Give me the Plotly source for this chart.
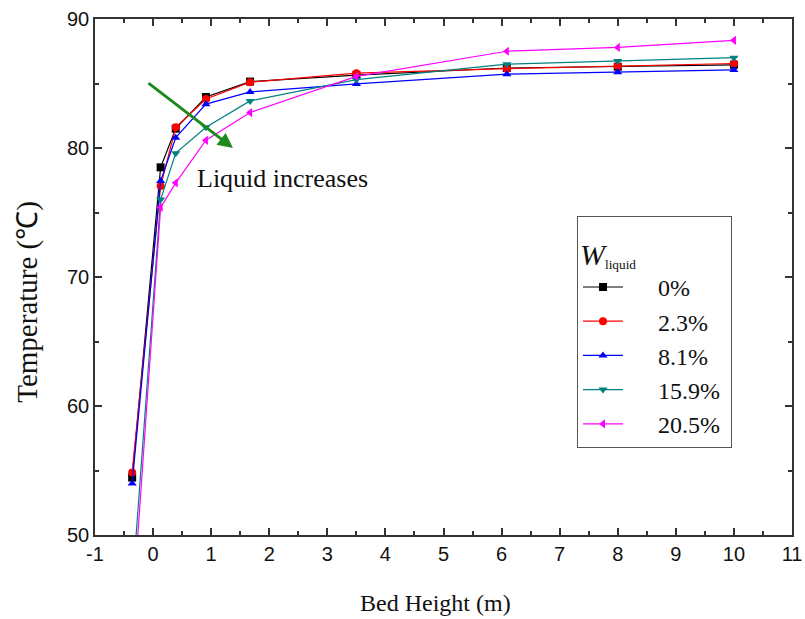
import plotly.graph_objects as go

bed_height = [-0.36, 0.13, 0.39, 0.91, 1.67, 3.5, 6.09, 8.0, 10.0]
t_0 = [54.45, 78.5, 81.5, 83.95, 85.15, 85.65, 86.2, 86.3, 86.45]
t_2_3 = [54.85, 77.05, 81.6, 83.8, 85.1, 85.8, 86.15, 86.35, 86.55]
t_8_1 = [54.0, 77.45, 80.8, 83.4, 84.35, 84.97, 85.72, 85.87, 86.05]
t_15_9 = [45.8, 76.0, 79.6, 81.6, 83.65, 85.3, 86.5, 86.75, 87.0]
t_20_5 = [43.7, 75.4, 77.3, 80.6, 82.75, 85.55, 87.5, 87.8, 88.35]

series_names = ["0%", "2.3%", "8.1%", "15.9%", "20.5%"]
series_values = [t_0, t_2_3, t_8_1, t_15_9, t_20_5]
colors = ["#000000", "#FF0000", "#0000FF", "#008080", "#FF00FF"]
symbols = ["square", "circle", "triangle-up", "triangle-down", "triangle-left"]

x_ticks = list(range(-1, 12))
x_tick_labels = ["-1"] + [str(v) for v in range(0, 12)]
y_ticks = [50, 60, 70, 80, 90]

SERIF = "Liberation Serif, Times New Roman, serif"
SANS = "Liberation Sans, Arial, sans-serif"
NB = "\u00a0"

fig = go.Figure()
for name, vals, c, s in zip(series_names, series_values, colors, symbols):
    fig.add_trace(go.Scatter(
        x=bed_height, y=vals, name=NB * 5 + name + NB, mode="lines+markers",
        line=dict(color=c, width=1.2),
        marker=dict(symbol=s, size=8, color=c),
    ))

axis_common = dict(
    showline=True, linecolor="#333333", linewidth=1.5, mirror="ticks",
    ticks="inside", ticklen=7, tickwidth=1.5, tickcolor="#333333",
    showgrid=False, zeroline=False, automargin=False,
    tickfont=dict(family=SANS, size=20, color="#111111"),
)

fig.update_xaxes(
    range=[-1, 11], tickvals=x_ticks, ticktext=x_tick_labels,
    minor=dict(ticks="inside", ticklen=4, tickwidth=1.5, tickcolor="#333333", dtick=0.5),
    **axis_common,
)
fig.update_yaxes(
    range=[50, 90], tickvals=y_ticks,
    minor=dict(ticks="inside", ticklen=4, tickwidth=1.5, tickcolor="#333333", dtick=5),
    **axis_common,
)

# axis titles
fig.add_annotation(
    x=0.488, y=0, xref="paper", yref="paper", xanchor="center", yanchor="middle",
    yshift=-68, text="Bed Height (m)", showarrow=False,
    font=dict(family=SERIF, size=24, color="#111111"),
)
fig.add_annotation(
    x=0, y=0.452, xref="paper", yref="paper", xanchor="center", yanchor="middle",
    xshift=-67, textangle=-90, text="Temperature (℃)", showarrow=False,
    font=dict(family=SERIF, size=29, color="#111111"),
)

fig.add_annotation(
    x=1.375, y=80.0, ax=-0.105, ay=85.12, xref="x", yref="y", axref="x", ayref="y",
    showarrow=True, arrowhead=2, arrowsize=1, arrowwidth=3, arrowcolor="#1E8A1E", text="",
)
fig.add_annotation(
    x=2.22, y=77.65, xref="x", yref="y", text="Liquid increases", showarrow=False,
    font=dict(family=SERIF, size=26, color="#111111"),
)

fig.update_layout(
    width=805, height=619,
    margin=dict(l=95, r=13, t=19, b=84),
    paper_bgcolor="white", plot_bgcolor="white",
    showlegend=True,
    legend=dict(
        x=0.6915, y=0.6186, xanchor="left", yanchor="top",
        bordercolor="#555555", borderwidth=1, bgcolor="white",
        font=dict(family=SERIF, size=24, color="#111111"),
        title=dict(text="<span style='font-size:30px'><i>W</i></span><span style='font-size:19px'><sub>liquid</sub></span>",
                   font=dict(family=SERIF, size=37, color="#111111")),
        tracegroupgap=0, itemwidth=40,
    ),
)

fig.write_html("out.html")
